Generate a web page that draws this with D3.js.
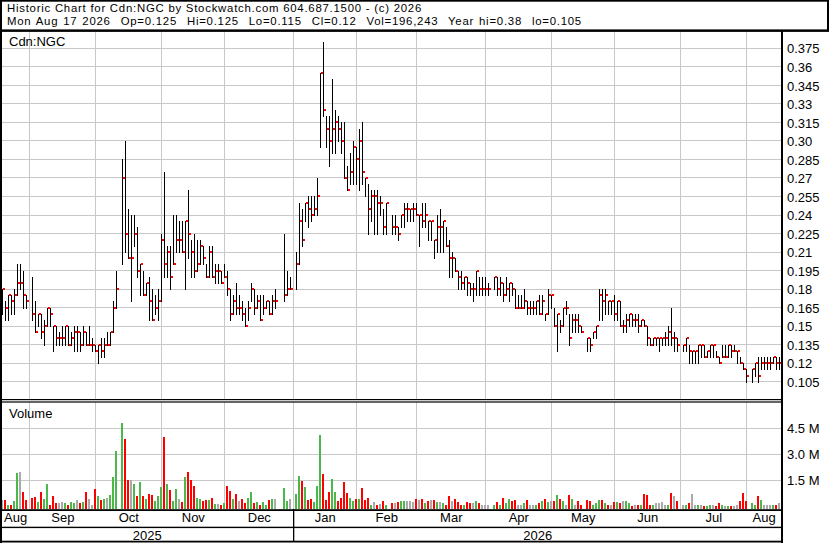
<!DOCTYPE html>
<html><head><meta charset="utf-8">
<script src="https://cdn.jsdelivr.net/npm/d3@7"></script>
<style>
body{margin:0;background:#fff}
svg{display:block}
text{font-family:"Liberation Sans",Arial,sans-serif;fill:#000}
</style>
</head><body>
<svg id="c" width="830" height="543"></svg>
<script>
// ---- data (one slot per weekday, 2025-08-19 .. 2026-08-17; null = no trading) ----
const highs = [
.18,.17,.175,.175,.18,.20,.20,.195,.175,null,
.19,.17,.16,.16,.155,.165,.165,.15,.15,.145,
.15,.15,.15,.145,.15,.15,.145,.15,.145,.15,
.14,.135,.135,.14,.14,.145,.145,.17,.195,null,
.285,.30,.245,.24,.24,.23,.20,.195,.185,.19,
.18,.175,.18,.225,.275,.215,.215,.24,.24,.235,
.235,.235,.26,.22,.225,.22,.22,.215,.20,.215,
.215,.20,.20,.195,.20,.195,.18,.175,.185,.175,
.17,.165,.17,.185,.18,.175,.175,.175,.17,.17,
.175,.18,null,null,.225,.195,.19,null,.21,.25,
.245,.25,.255,.255,.255,.27,.355,.38,.32,.32,
.35,.325,.32,.315,.315,.28,.29,.30,.295,.31,
.315,.27,.265,.26,.26,.26,.255,.245,.25,null,
.24,.24,.23,.24,.25,.25,.245,.25,.25,.24,
.25,.25,.235,.235,.22,.24,.245,.235,.23,.22,
.21,.205,.195,.195,.19,.19,.185,.185,.195,.19,
.19,.19,.185,null,.19,.19,.19,.185,.19,.185,
.185,.18,.175,.175,.18,.17,.17,.17,.17,.175,
.175,.16,.18,.175,.165,.16,.155,.165,.17,.16,
.16,.16,.16,.15,null,.14,.14,.145,.15,.18,
.18,.18,.17,.17,.175,.17,.17,.155,.16,.16,
.16,.16,.16,.155,.155,.15,.14,.14,.14,.14,
.14,.145,.15,.165,.145,.14,null,.135,.14,.135,
.13,.13,.135,.135,.135,.13,.135,.135,.13,.125,
.135,.135,.135,.135,.135,.13,.125,.12,.115,null,
.115,.12,.125,.125,.125,.125,.125,.125,.125,.125];
const lows = [
.16,.155,.155,.16,.16,.175,.18,.165,.165,null,
.155,.145,.15,.14,.135,.15,.15,.13,.135,.135,
.135,.135,.135,.135,.13,.13,.13,.135,.135,.135,
.13,.13,.12,.125,.125,.135,.135,.145,.165,null,
.20,.21,.205,.17,.215,.19,.175,.175,.175,.155,
.155,.16,.155,.17,.19,.19,.18,.20,.21,.21,
.21,.18,.205,.19,.19,.195,.20,.20,.19,.19,
.19,.185,.185,.185,.19,.175,.155,.16,.16,.16,
.155,.15,.155,.17,.16,.165,.155,.16,.165,.16,
.16,.165,null,null,.17,.175,.18,null,.18,.20,
.215,.235,.23,.235,.24,.24,.295,.32,.295,.28,
.29,.29,.30,.29,.27,.26,.265,.265,.265,.26,
.265,.255,.225,.235,.225,.225,.24,.225,.225,null,
.225,.225,.22,.23,.23,.235,.235,.235,.24,.215,
.23,.23,.22,.22,.205,.21,.21,.21,.215,.19,
.19,.195,.18,.18,.18,.175,.175,.17,.175,.175,
.175,.175,.175,null,.18,.175,.175,.17,.175,.17,
.175,.165,.165,.165,.165,.16,.16,.16,.16,.16,
.16,.155,.16,.165,.15,.13,.145,.15,.16,.135,
.145,.145,.145,.145,null,.13,.13,.14,.14,.155,
.155,.16,.16,.16,.155,.155,.15,.145,.145,.15,
.15,.15,.145,.15,.15,.135,.135,.135,.135,.13,
.135,.135,.135,.135,.13,.13,null,.13,.13,.12,
.12,.12,.12,.125,.125,.125,.125,.125,.125,.12,
.125,.125,.125,.125,.13,.12,.12,.115,.105,null,
.105,.11,.105,.115,.115,.115,.115,.12,.115,.115];
const closes = [
.18,.165,.175,.17,.175,.185,.185,.175,.17,null,
.16,.145,.16,.145,.15,.165,.16,.15,.14,.14,
.14,.15,.135,.14,.145,.145,.135,.145,.135,.135,
.135,.13,.135,.13,.135,.135,.145,.165,.18,null,
.27,.225,.205,.205,.225,.195,.20,.175,.185,.17,
.155,.165,.17,.22,.20,.21,.19,.20,.22,.22,
.21,.235,.225,.21,.195,.20,.215,.205,.19,.21,
.19,.195,.195,.185,.19,.18,.16,.17,.165,.165,
.16,.15,.165,.18,.165,.17,.155,.165,.17,.16,
.17,.17,null,null,.175,.18,.18,null,.20,.235,
.22,.25,.245,.24,.245,.255,.355,.325,.31,.30,
.31,.315,.31,.30,.27,.26,.275,.295,.285,.30,
.275,.27,.245,.255,.255,.25,.25,.23,.25,null,
.23,.23,.225,.24,.245,.245,.245,.245,.24,.24,
.235,.24,.235,.235,.22,.23,.23,.235,.215,.205,
.205,.195,.19,.185,.19,.185,.18,.18,.195,.18,
.18,.18,.18,null,.19,.18,.185,.175,.18,.185,
.18,.165,.165,.165,.17,.165,.165,.165,.17,.16,
.17,.16,.175,.175,.15,.16,.15,.165,.165,.14,
.155,.155,.15,.145,null,.14,.135,.145,.15,.175,
.17,.175,.17,.17,.16,.17,.15,.15,.155,.16,
.155,.155,.15,.155,.15,.14,.135,.14,.14,.14,
.14,.14,.145,.14,.14,.135,null,.135,.14,.13,
.13,.13,.135,.135,.125,.13,.135,.135,.125,.12,
.125,.125,.135,.13,.13,.13,.12,.115,.11,null,
.115,.12,.11,.12,.12,.12,.12,.125,.12,.12];
// volume, millions of shares
const volumes = [
.35,.35,.05,.1,.3,1.9,2.0,.8,.35,null,
.5,.55,.25,.85,.45,1.3,.1,.6,.2,.2,
.25,.2,.1,.25,.2,.35,.2,.25,.8,.4,
.1,1.0,.6,.35,.4,.5,.65,1.7,3.2,null,
4.8,3.9,1.5,1.5,1.3,.6,1.4,.6,.4,.7,
.65,.3,.6,1.1,4.0,1.3,.95,.3,1.0,.4,
.25,1.7,2.0,1.5,1.2,.5,.4,.3,.35,.35,
.5,.15,.15,.1,.2,1.2,.9,.45,.7,.3,
.45,.2,.5,.8,.2,.25,.1,.25,.1,.35,
.45,.4,null,null,1.05,.3,.45,null,.7,1.75,
1.45,1.1,.35,.45,.25,1.15,4.1,1.85,.35,.8,
1.6,.8,.3,.5,1.4,.75,.5,.3,.4,.45,
1.05,.35,.5,.1,.25,.1,.15,.3,.05,null,
.2,.2,.25,.3,.3,.3,.3,.25,.4,.35,
.45,.2,.3,.35,.35,.25,.25,.2,.1,.6,
.3,.4,.25,.1,.1,.25,.2,.2,.3,.2,
.1,.1,.1,null,.05,.25,.1,.5,.2,.4,
.3,.35,.1,.1,.2,.35,.1,.05,.1,.2,
.3,.45,.25,.3,.3,.65,.4,.3,.1,.65,
.45,.1,.3,.05,null,.35,.3,.05,.2,.35,
.35,.2,.05,.05,.25,.25,.2,.3,.3,.2,
.02,.05,.05,.1,.7,.65,.05,.1,.2,.2,
.25,.1,.05,.75,.6,.3,null,.1,.1,.2,
.7,.1,.05,.05,.02,.02,.05,.05,.02,.2,
.1,.02,.02,.02,.02,.05,.3,.79,.3,null,
.2,.1,.6,.35,.07,.1,.05,.1,.07,.196];

const priceTicks  = [0.105,0.12,0.135,0.15,0.165,0.18,0.195,0.21,0.225,0.24,0.255,0.27,0.285,0.30,0.315,0.33,0.345,0.36,0.375];
const priceLabels = ["0.105","0.12","0.135","0.15","0.165","0.18","0.195","0.21","0.225","0.24","0.255","0.27","0.285","0.30","0.315","0.33","0.345","0.36","0.375"];
const volTicks  = [1.5,3.0,4.5];
const volLabels = ["1.5 M","3.0 M","4.5 M"];
const monthLabels = ["Aug","Sep","Oct","Nov","Dec","Jan","Feb","Mar","Apr","May","Jun","Jul","Aug"];
const yearLabels = ["2025","2026"];
const header1 = "Historic Chart for Cdn:NGC by Stockwatch.com 604.687.1500 - (c) 2026";
const header2 = "Mon Aug 17 2026  Op=0.125  Hi=0.125  Lo=0.115  Cl=0.12  Vol=196,243  Year hi=0.38  lo=0.105";
const symbol = "Cdn:NGC";

// ---- weekday slots & month boundaries ----
const slots = d3.timeDays(new Date(2025,7,19), new Date(2026,7,18)).filter(d => d.getDay()%6 !== 0);
const monthFirsts = d3.timeMonths(new Date(2025,8,1), new Date(2026,7,2));
const boundIdx = monthFirsts.map(m => d3.bisectRight(slots, m) - 1);
const yearBoundIdx = boundIdx[4]; // Jan 1 2026

// ---- scales ----
const PR = 781; // right edge of plot
const x  = d3.scaleLinear().domain([0, slots.length-1]).range([2.3, 2.3 + 3*(slots.length-1)]);
const y  = d3.scaleLinear().domain([0.105, 0.375]).range([381.7, 48.3]);
const vy = d3.scaleLinear().domain([0, 6]).range([506.3, 402.3]);
const px = i => Math.floor(x(i)) + 0.5;

const svg = d3.select("#c");
const GRID = "#c8c8c8";
const FONT = '"Liberation Sans",Arial,sans-serif';
const FS = 13;

// ---- grid ----
const g = svg.append("g").attr("stroke", GRID).attr("stroke-width", 1);
g.selectAll(".hp").data(priceTicks).join("line")
  .attr("x1", 2).attr("x2", PR).attr("y1", d => Math.floor(y(d))+0.5).attr("y2", d => Math.floor(y(d))+0.5);
g.selectAll(".hv").data(volTicks).join("line")
  .attr("x1", 2).attr("x2", PR).attr("y1", d => Math.floor(vy(d))+0.5).attr("y2", d => Math.floor(vy(d))+0.5);
g.selectAll(".vg1").data(boundIdx).join("line")
  .attr("x1", d => px(d)).attr("x2", d => px(d)).attr("y1", 32).attr("y2", 399);
g.selectAll(".vg2").data(boundIdx).join("line")
  .attr("x1", d => px(d)).attr("x2", d => px(d)).attr("y1", 402).attr("y2", 509);

// ---- volume bars ----
const volColor = i => {
  let p = i-1; while (p >= 0 && closes[p] == null) p--;
  if (p < 0 || closes[i] === closes[p]) return "#aaaaaa";
  return closes[i] > closes[p] ? "#4cb84c" : "#ff0000";
};
const vIdx = d3.range(slots.length).filter(i => volumes[i] != null);
svg.append("g").selectAll("rect").data(vIdx).join("rect")
  .attr("x", i => Math.floor(x(i)) - 1).attr("width", 2)
  .attr("y", i => Math.round(vy(volumes[i])))
  .attr("height", i => 509 - Math.round(vy(volumes[i])))
  .attr("fill", volColor);

// ---- price bars (high-low with close tick) ----
const pIdx = d3.range(slots.length).filter(i => highs[i] != null);
svg.append("g").selectAll("line").data(pIdx).join("line")
  .attr("x1", px).attr("x2", px)
  .attr("y1", i => Math.round(y(highs[i]))).attr("y2", i => Math.round(y(lows[i]))+1)
  .attr("stroke", "#000").attr("stroke-width", 1);
svg.append("g").selectAll("rect").data(pIdx).join("rect")
  .attr("x", i => Math.floor(x(i)) + 1).attr("y", i => Math.round(y(closes[i])) - 1)
  .attr("width", 2).attr("height", 2).attr("fill", "#ff0000");

// ---- axes ----
const styleAxis = sel => { sel.select(".domain").remove(); sel.attr("font-family", FONT).attr("font-size", FS); sel.selectAll("text").attr("fill", "#000"); };
svg.append("g").attr("transform", `translate(${PR+1},0.5)`)
  .call(d3.axisRight(y).tickValues(priceTicks).tickFormat((d,i) => priceLabels[i]).tickSize(0).tickPadding(5))
  .call(styleAxis);
svg.append("g").attr("transform", `translate(${PR+1},0.5)`)
  .call(d3.axisRight(vy).tickValues(volTicks).tickFormat((d,i) => volLabels[i]).tickSize(0).tickPadding(5))
  .call(styleAxis);

// month labels centred in each month span
const edges = [x(0) - 1.5].concat(boundIdx.map(i => x(i))).concat([PR]);
const monthCenters = monthLabels.map((m,i) => (edges[i] + edges[i+1]) / 2);
svg.append("g").attr("transform", "translate(0,509)")
  .call(d3.axisBottom(d3.scaleIdentity()).tickValues(monthCenters).tickFormat((d,i) => monthLabels[i]).tickSize(0))
  .call(styleAxis)
  .call(s => s.selectAll("text").attr("y", 12.7).attr("dy", null));
const yearCenters = [(0 + x(yearBoundIdx)) / 2, (x(yearBoundIdx) + PR) / 2];
svg.append("g").attr("transform", "translate(0,528)")
  .call(d3.axisBottom(d3.scaleIdentity()).tickValues(yearCenters).tickFormat((d,i) => yearLabels[i]).tickSize(0))
  .call(styleAxis)
  .call(s => s.selectAll("text").attr("y", 11.7).attr("dy", null));

// ---- frames ----
const fr = svg.append("g").attr("fill", "#000");
const box = (x0,y0,w,h) => fr.append("rect").attr("x",x0).attr("y",y0).attr("width",w).attr("height",h);
box(0,0,829,1.7);          // top
box(827,0,2,31);           // header right
box(0,0,2,543);            // left
box(0,29.4,829,2.5);       // under header
box(PR,30,2,513);          // right axis line
box(0,399,PR,1.2);         // price/volume double line
box(0,401.4,PR,1.2);
box(0,509.2,PR+2,1.8);     // volume baseline
box(0,526.7,PR+2,1.4);     // month/year divider
box(0,540.7,PR+2,1.8);     // bottom
box(Math.floor(x(yearBoundIdx)),509,1.3,33); // year separator

// ---- header texts (two lines, tight like the original) ----
const HFS = 11.4;
svg.append("text").attr("x", 7).attr("y", 12.0).attr("font-size", HFS).attr("font-family", FONT)
  .attr("letter-spacing", 0.75).attr("xml:space", "preserve").style("white-space", "pre").text(header1);
svg.append("text").attr("x", 7).attr("y", 24.8).attr("font-size", HFS).attr("font-family", FONT)
  .attr("letter-spacing", 0.75).attr("word-spacing", 1.05)
  .attr("xml:space", "preserve").style("white-space", "pre").text(header2);
svg.append("text").attr("x",9).attr("y",46).attr("font-size",FS).text(symbol);
svg.append("text").attr("x",9).attr("y",418).attr("font-size",FS).text("Volume");
</script>
</body></html>
